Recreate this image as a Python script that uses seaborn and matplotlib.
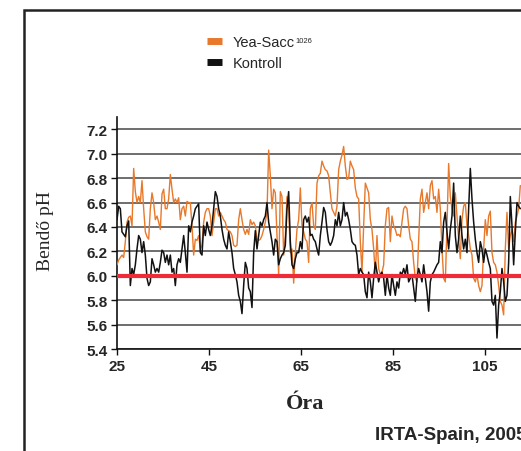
import numpy as np
import pandas as pd
import matplotlib
matplotlib.use("Agg")
import matplotlib.pyplot as plt
from matplotlib.lines import Line2D
from matplotlib.patches import Rectangle
import seaborn as sns

# ---- data ----
start_hour = 25.0
step_hour = 0.3623

yea_sacc = [
    6.09, 6.13, 6.15, 6.17, 6.15, 6.28, 6.44, 6.48, 6.49, 6.41, 6.88, 6.69, 6.60, 6.65, 6.60,
    6.78, 6.55, 6.36, 6.32, 6.30, 6.55, 6.68, 6.60, 6.46, 6.49, 6.44, 6.38, 6.67, 6.71, 6.55,
    6.55, 6.63, 6.83, 6.71, 6.60, 6.63, 6.60, 6.64, 6.46, 6.55, 6.57, 6.49, 6.61, 6.60, 6.60,
    6.41, 6.17, 6.30, 6.29, 6.33, 6.22, 6.25, 6.44, 6.52, 6.55, 6.55, 6.49, 6.33, 6.44, 6.55,
    6.55, 6.49, 6.52, 6.49, 6.46, 6.44, 6.38, 6.37, 6.36, 6.33, 6.25, 6.24, 6.25, 6.46, 6.55,
    # ---
    6.46, 6.38, 6.34, 6.38, 6.34, 6.46, 6.42, 6.44, 6.41, 6.30, 6.29, 6.30, 6.33, 6.38, 6.44,
    6.52, 7.03, 6.82, 6.55, 6.71, 6.68, 6.33, 6.01, 6.69, 6.65, 6.17, 6.33, 6.65, 6.55, 6.19,
    6.22, 5.94, 6.19, 6.38, 6.46, 6.72, 6.41, 6.36, 6.30, 6.28, 6.11, 6.55, 6.60, 6.41, 6.38,
    6.76, 6.82, 6.84, 6.94, 6.90, 6.87, 6.86, 6.82, 6.68, 6.55, 6.52, 6.49, 6.57, 6.87, 6.94,
    6.99, 7.06, 6.90, 6.79, 6.80, 6.94, 6.90, 6.87, 6.72, 6.65, 6.63, 6.28, 6.03, 6.41, 6.76,
    6.72, 6.68, 6.46, 6.38, 6.22, 6.01, 6.33, 6.06, 6.01,
    # ---
    6.03, 6.09, 6.41, 6.55, 6.56, 6.28, 6.49, 6.41, 6.38, 6.33, 6.34, 6.32, 6.44, 6.55, 6.57,
    6.55, 6.41, 6.30, 6.28, 6.11, 5.98, 5.95, 6.28, 6.63, 6.71, 6.52, 6.60, 6.68, 6.55, 6.74,
    6.78, 6.63, 6.65, 6.52, 6.71, 6.55, 6.22, 5.98, 5.95, 6.41, 6.92, 6.65, 6.55, 6.49, 6.68,
    6.49, 6.30, 6.14, 6.46, 6.57, 6.60, 6.41, 6.33, 6.22, 6.17, 5.98, 5.95, 6.01, 5.92, 5.87,
    5.92, 6.22, 6.46, 6.33, 6.49, 6.53, 6.19, 6.11, 6.09, 6.03, 5.92, 5.79, 5.76, 5.68, 6.22,
    6.52, 6.22, 6.33, 6.38, 6.28, 6.44, 6.49, 6.55, 6.74,
]

kontroll = [
    6.46, 6.57, 6.55, 6.36, 6.34, 6.32, 6.41, 6.45, 5.92, 6.06, 6.01, 6.09, 6.22, 6.33, 6.30,
    6.19, 6.28, 6.17, 5.98, 5.92, 5.95, 6.14, 6.09, 6.03, 6.06, 6.03, 6.11, 6.21, 6.19, 6.11,
    6.17, 6.09, 6.17, 6.03, 6.06, 5.92, 6.09, 6.14, 6.11, 6.22, 6.33, 6.19, 6.03, 6.41, 6.36,
    6.44, 6.49, 6.55, 6.57, 6.59, 6.19, 6.17, 6.41, 6.33, 6.44, 6.38, 6.33, 6.41, 6.55, 6.69,
    6.65, 6.55, 6.49, 6.38, 6.30, 6.25, 6.22, 6.36, 6.28, 6.19, 6.06, 6.01, 5.95, 5.84, 5.79,
    # ---
    5.69, 5.92, 6.11, 6.06, 5.90, 5.87, 5.74, 6.19, 6.37, 6.22, 6.33, 6.44, 6.41, 6.46, 6.49,
    6.60, 6.44, 6.36, 6.28, 6.17, 6.30, 6.28, 6.09, 6.14, 6.17, 6.19, 6.25, 6.55, 6.69, 6.28,
    6.09, 6.06, 6.14, 6.19, 6.19, 6.28, 6.22, 6.46, 6.49, 6.44, 6.48, 6.33, 6.34, 6.30, 6.28,
    6.22, 6.17, 6.33, 6.44, 6.56, 6.52, 6.38, 6.28, 6.25, 6.28, 6.33, 6.46, 6.41, 6.52, 6.41,
    6.46, 6.60, 6.49, 6.52, 6.46, 6.38, 6.28, 6.26, 6.25, 6.17, 6.01, 6.06, 6.03, 6.01, 5.87,
    5.82, 6.03, 5.95, 5.82, 5.98, 6.11, 6.03, 5.95, 6.01,
    # ---
    6.03, 5.98, 5.84, 6.01, 5.90, 5.84, 6.01, 5.92, 5.84, 5.95, 5.90, 6.03, 6.01, 6.06, 6.01,
    6.09, 5.95, 5.98, 6.01, 5.90, 5.79, 5.98, 6.06, 6.01, 5.95, 6.09, 5.98, 5.87, 5.71, 5.95,
    6.01, 6.03, 6.06, 6.09, 6.11, 6.28, 6.19, 6.44, 6.52, 6.36, 6.22, 6.38, 6.49, 6.76, 6.33,
    6.19, 6.30, 6.49, 6.33, 6.22, 6.30, 6.19, 6.55, 6.88, 6.63, 6.44, 6.30, 6.19, 6.11, 6.28,
    6.22, 6.11, 6.22, 6.17, 6.11, 6.06, 5.79, 5.76, 5.84, 5.49, 5.76, 5.87, 6.06, 5.95, 5.79,
    5.84, 6.11, 6.65, 6.41, 6.09, 6.36, 6.60, 6.57, 6.55,
]

threshold = 6.0
x_ticks = [25, 45, 65, 85, 105]
y_ticks = [5.4, 5.6, 5.8, 6.0, 6.2, 6.4, 6.6, 6.8, 7.0, 7.2]
series_names = ["Yea-Sacc", "Kontroll"]
legend_labels = ["Yea-Sacc", "Kontroll"]
superscript = "1026"
colors = {"Yea-Sacc": "#E8782A", "Kontroll": "#111111"}

df = pd.concat([
    pd.DataFrame({"Óra": start_hour + step_hour * np.arange(len(yea_sacc)),
                  "pH": yea_sacc, "Csoport": "Yea-Sacc"}),
    pd.DataFrame({"Óra": start_hour + step_hour * np.arange(len(kontroll)),
                  "pH": kontroll, "Csoport": "Kontroll"}),
])

# ---- figure ----
sns.set_style("white")
plt.rcParams["font.family"] = ["Liberation Sans", "DejaVu Sans"]

W, H = 521, 452
fig = plt.figure(figsize=(W / 100, H / 100), dpi=100)
ax_left, ax_bottom = 117 / W, 1 - 350 / H
ax_top = 1 - (350 - 1.9 * 122) / H
ax = fig.add_axes([ax_left, ax_bottom, 1 - ax_left, ax_top - ax_bottom])

sns.lineplot(data=df[df.Csoport == "Yea-Sacc"], x="Óra", y="pH", color=colors["Yea-Sacc"],
             lw=1.0, ax=ax, legend=False, zorder=3)
sns.lineplot(data=df[df.Csoport == "Kontroll"], x="Óra", y="pH", color=colors["Kontroll"],
             lw=1.1, ax=ax, legend=False, zorder=4)
ax.axhline(threshold, color="#EE2B36", lw=3.0, zorder=6)

ax.set_xlim(25, 25 + (W - 117) / 4.6)
ax.set_ylim(5.4, 7.3)
ax.set_xticks(x_ticks)
ax.set_yticks(y_ticks)
ax.set_yticklabels([f"{v:.1f}" for v in y_ticks])
for s in ["top", "right"]:
    ax.spines[s].set_visible(False)
for s in ["left", "bottom"]:
    ax.spines[s].set_color("#111111")
    ax.spines[s].set_linewidth(1.2)
ax.yaxis.grid(True, color="#555555", lw=1.2, zorder=1)
ax.xaxis.grid(False)
ax.tick_params(axis="both", which="major", direction="out", length=4, width=1,
               color="#111111", labelsize=11, pad=3, left=True, bottom=True)
for lab in ax.get_xticklabels() + ax.get_yticklabels():
    lab.set_fontweight("bold")
ax.set_xlabel("")
ax.set_ylabel("")

fig.text(45 / W, 1 - 231 / H, "Bendő pH", rotation=90, ha="center", va="center",
         family="Liberation Serif", fontsize=14)
fig.text(305 / W, 1 - 404 / H, "Óra", ha="center", va="center",
         family="Liberation Serif", fontsize=16, fontweight="bold")
fig.text(375 / W, 1 - 436 / H, "IRTA-Spain, 2005", ha="left", va="center",
         fontsize=13.5, fontweight="bold")

handles = [Line2D([0], [0], color=colors[s], lw=5, solid_capstyle="butt") for s in series_names]
leg = fig.legend(handles, legend_labels, loc="upper left", bbox_to_anchor=(207 / W, 1 - 36 / H),
                 frameon=False, fontsize=10.5, handlelength=1.05, handletextpad=0.7,
                 labelspacing=0.5, borderaxespad=0, borderpad=0)

fig.canvas.draw()
t0 = leg.get_texts()[0]
bb = t0.get_window_extent(renderer=fig.canvas.get_renderer())
inv = fig.transFigure.inverted()
x1, y1 = inv.transform((bb.x1 + 0.5, bb.y1 - 2))
fig.text(x1, y1, superscript, ha="left", va="top", fontsize=5.5)

fig.add_artist(Rectangle((23.5 / W, -0.1), 1.2, 1.1 - 11 / H,
                         transform=fig.transFigure, fill=False, lw=1.8, ec="#222222"))

fig.savefig("out.png", dpi=100)
